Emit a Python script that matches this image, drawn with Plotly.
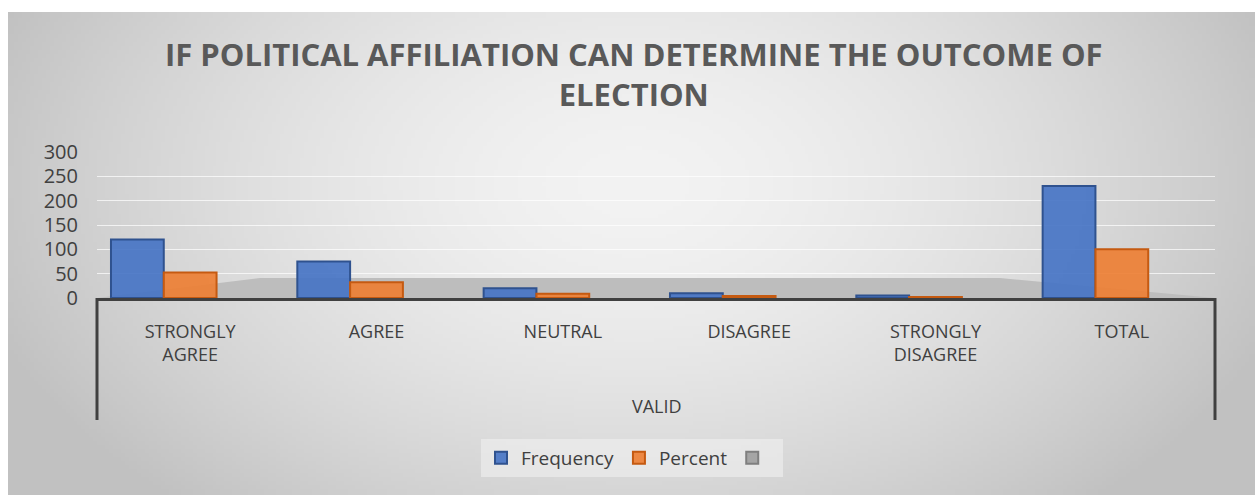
import base64, struct, zlib
import numpy as np
import plotly.graph_objects as go

# ---- data ----
group = "VALID"
categories = ["STRONGLY<br>AGREE", "AGREE", "NEUTRAL", "DISAGREE", "STRONGLY<br>DISAGREE", "TOTAL"]
frequency = [120, 75, 20, 10, 5, 230]
percent = [52.2, 32.6, 8.7, 4.3, 2.2, 100]
y_ticks = [0, 50, 100, 150, 200, 250, 300]
title_text = "IF POLITICAL AFFILIATION CAN DETERMINE THE OUTCOME OF<br>ELECTION"

# ---- background gradient image (style only) ----
def gradient_png(w, h):
    yy, xx = np.mgrid[0:h, 0:w]
    cx, cy = w * 0.5, h * 0.35
    d = np.sqrt(((xx - cx) / (w * 0.55)) ** 2 + ((yy - cy) / (h * 0.9)) ** 2)
    d = np.clip(d, 0, 1)
    v = (243 - 50 * d ** 1.6).astype(np.uint8)
    rgb = np.stack([v, v, v], axis=-1)
    raw = b"".join(b"\x00" + rgb[r].tobytes() for r in range(h))
    def chunk(t, data):
        c = struct.pack(">I", len(data)) + t + data
        return c + struct.pack(">I", zlib.crc32(t + data) & 0xffffffff)
    png = b"\x89PNG\r\n\x1a\n" + chunk(b"IHDR", struct.pack(">IIBBBBB", w, h, 8, 2, 0, 0, 0)) \
        + chunk(b"IDAT", zlib.compress(raw, 9)) + chunk(b"IEND", b"")
    return "data:image/png;base64," + base64.b64encode(png).decode()

W, H = 1255, 495
L, R, T, B = 97, 1215, 152, 298
pw, ph = R - L, B - T
def px(x): return (x - L) / pw
def py(y): return (B - y) / ph

fig = go.Figure()
fig.add_trace(go.Bar(x=categories, y=frequency, name="Frequency",
                     marker=dict(color="rgba(68,114,196,0.9)", line=dict(color="#2F528F", width=2))))
fig.add_trace(go.Bar(x=categories, y=percent, name="Percent",
                     marker=dict(color="rgba(237,125,49,0.9)", line=dict(color="#C55A11", width=2))))
fig.add_trace(go.Bar(x=categories, y=[None] * len(categories), name=" ",
                     marker=dict(color="#A5A5A5", line=dict(color="#7F7F7F", width=2))))

fig.add_layout_image(dict(source=gradient_png(314, 121), xref="paper", yref="paper",
                          x=px(8), y=py(12), sizex=px(1255) - px(8), sizey=py(12) - py(495),
                          sizing="stretch", layer="below", xanchor="left", yanchor="top"))

# floor
fig.add_shape(type="path", xref="paper", yref="paper", layer="below",
              path=f"M {px(97)},{py(298)} L {px(260)},{py(278)} L {px(1000)},{py(278)} L {px(1215)},{py(298)} Z",
              fillcolor="#bdbdbd", line=dict(width=0))
# group dividers of the category axis
for xe in (0, 1):
    fig.add_shape(type="line", xref="paper", yref="paper", x0=xe, x1=xe, y0=0, y1=py(420),
                  line=dict(color="#404040", width=3))
fig.add_annotation(text=group, xref="paper", yref="paper", x=px(657), y=py(406),
                   showarrow=False, yanchor="middle", font=dict(size=18, color="#404040"))

fig.update_layout(
    width=W, height=H,
    margin=dict(l=L, r=W - R, t=T, b=H - B),
    paper_bgcolor="white", plot_bgcolor="rgba(0,0,0,0)",
    barmode="group", bargap=0.15, bargroupgap=0,
    title=dict(text=title_text, x=0.505, xanchor="center", y=1 - 66 / H, yanchor="middle",
               font=dict(family="Open Sans", size=31, color="#595959", weight="bold")),
    font=dict(family="Open Sans", color="#404040"),
    legend=dict(orientation="h", x=px(632), xanchor="center", y=py(458), yanchor="middle",
                bgcolor="rgba(240,240,240,0.6)", font=dict(size=19, color="#404040"),
                itemsizing="constant"),
    showlegend=True,
)
fig.update_yaxes(range=[0, 300], tickvals=y_ticks, ticks="", showline=False,
                 gridcolor="rgba(255,255,255,0.7)", gridwidth=1, zeroline=False,
                 tickfont=dict(size=20, color="#404040"), ticklabelstandoff=18)
fig.update_xaxes(type="category", showline=True, linecolor="#404040", linewidth=3,
                 tickfont=dict(size=18, color="#404040"), ticks="", ticklabelstandoff=15)

fig.write_html("out.html", config={"displayModeBar": False})
with open("out.html", encoding="utf-8") as f:
    html = f.read()
html = html.replace("<body>", '<body style="margin:0">', 1)
with open("out.html", "w", encoding="utf-8") as f:
    f.write(html)
